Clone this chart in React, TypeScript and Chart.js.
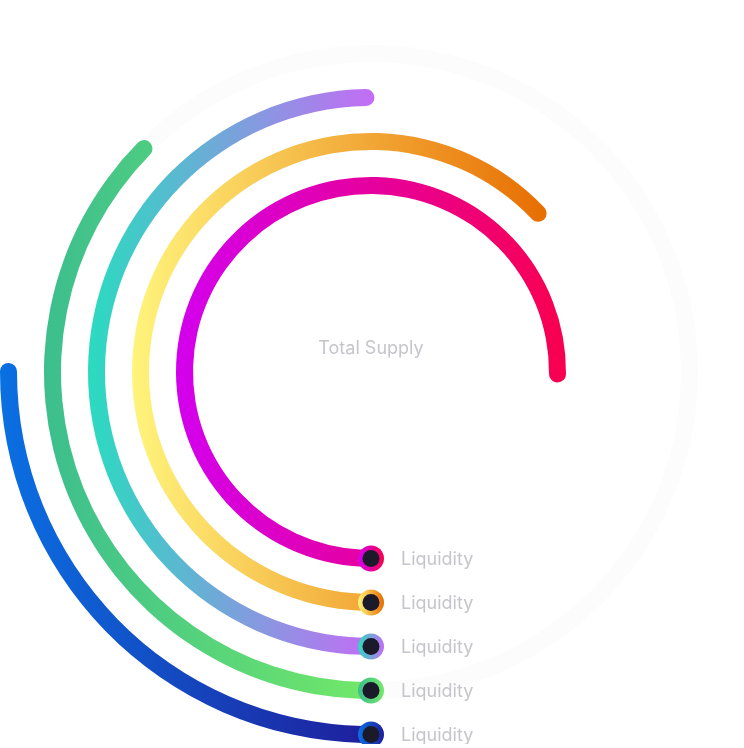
import React, { useEffect, useRef } from 'react';
import { Chart, registerables } from 'chart.js';

Chart.register(...registerables);

// ---- data (rings listed inner → outer) ----
const centerTitle = 'Total Supply';
const ringLabels = ['Liquidity', 'Liquidity', 'Liquidity', 'Liquidity', 'Liquidity'];
const ringValues = [75.9, 63.5, 50.2, 37.8, 25.4];
const ringTotal = 100;

// ---- styles ----
const ringStartColors = ['#d300ee', '#fff47c', '#2adbc0', '#3cbe8e', '#0a70e2'];
const ringEndColors = ['#f8004e', '#e76c00', '#c46cf5', '#72e868', '#1f1e9c'];
const trackColors = ['rgba(0,0,0,0)', 'rgba(0,0,0,0)', 'rgba(0,0,0,0)', '#fcfcfc', 'rgba(0,0,0,0)'];
const RING = 17;
const GAP = 27;
const ROTATION = 180;
const CUTOUT = 178;
const TEXT_COLOR = '#c5c5cb';
const DOT_COLOR = '#1b1a2a';
const FONT = '400 18px Inter, "Noto Sans", sans-serif';

export default function App() {
  const ref = useRef<HTMLCanvasElement>(null);

  useEffect(() => {
    const canvas = ref.current;
    if (!canvas) return;
    const order = [4, 3, 2, 1, 0]; // outer → inner
    const datasets: any[] = [];

    order.forEach((ri, k) => {
      if (k > 0) {
        datasets.push({
          data: [ringTotal],
          backgroundColor: 'rgba(0,0,0,0)',
          borderWidth: 0,
          weight: GAP,
          spacer: true,
        });
      }
      datasets.push({
        label: ringLabels[ri],
        data: [ringValues[ri], ringTotal - ringValues[ri]],
        ringIndex: ri,
        weight: RING,
        borderWidth: 0,
        borderRadius: RING / 2,
        backgroundColor: (c: any) => {
          if (c.dataIndex === 1) return trackColors[ri];
          const chart = c.chart;
          const area = chart.chartArea;
          if (!area) return ringStartColors[ri];
          const cx = (area.left + area.right) / 2;
          const R0 = Math.min(area.right - area.left, area.bottom - area.top) / 2;
          const Rout = R0 - k * (RING + GAP);
          const start = ((ROTATION - 90) * Math.PI) / 180;
          const end = start + (ringValues[ri] / ringTotal) * Math.PI * 2;
          let maxX = -Infinity;
          for (let i = 0; i <= 200; i++) {
            const a = start + ((end - start) * i) / 200;
            maxX = Math.max(maxX, cx + Rout * Math.cos(a));
          }
          const g = chart.ctx.createLinearGradient(cx - Rout, 0, Math.max(maxX, cx - Rout + 1), 0);
          g.addColorStop(0, ringStartColors[ri]);
          g.addColorStop(1, ringEndColors[ri]);
          return g;
        },
      });
    });

    const decor = {
      id: 'decor',
      afterDatasetsDraw(chart: any) {
        const ctx = chart.ctx;
        const area = chart.chartArea;
        const cx = (area.left + area.right) / 2;
        const cy = (area.top + area.bottom) / 2;
        ctx.save();
        ctx.font = FONT;
        ctx.fillStyle = TEXT_COLOR;
        ctx.textAlign = 'center';
        ctx.textBaseline = 'middle';
        ctx.fillText(centerTitle, cx, cy - 23);

        chart.data.datasets.forEach((ds: any, i: number) => {
          if (ds.spacer) return;
          const ri = ds.ringIndex;
          const arc = chart.getDatasetMeta(i).data[0];
          if (!arc) return;
          const r = (arc.innerRadius + arc.outerRadius) / 2;
          const px = arc.x + r * Math.cos(arc.startAngle);
          const py = arc.y + r * Math.sin(arc.startAngle);
          const g = ctx.createLinearGradient(px - 13, 0, px + 13, 0);
          g.addColorStop(0, ringStartColors[ri]);
          g.addColorStop(1, ringEndColors[ri]);
          ctx.beginPath();
          ctx.arc(px, py, 13, 0, Math.PI * 2);
          ctx.fillStyle = g;
          ctx.fill();
          ctx.beginPath();
          ctx.arc(px, py, 8.5, 0, Math.PI * 2);
          ctx.fillStyle = DOT_COLOR;
          ctx.fill();
          ctx.fillStyle = TEXT_COLOR;
          ctx.textAlign = 'left';
          ctx.textBaseline = 'middle';
          ctx.fillText(ds.label, px + 30, py + 1);
        });
        ctx.restore();
      },
    };

    const chart = new Chart(canvas, {
      type: 'doughnut',
      data: { labels: ['value', 'rest'], datasets },
      options: {
        responsive: false,
        maintainAspectRatio: false,
        animation: false,
        events: [],
        rotation: ROTATION,
        circumference: 360,
        cutout: CUTOUT,
        layout: { padding: 0 },
        plugins: {
          legend: { display: false },
          tooltip: { enabled: false },
        },
      } as any,
      plugins: [decor],
    });
    return () => chart.destroy();
  }, []);

  return (
    <div style={{ position: 'absolute', left: 0, top: 0, width: 744, height: 748, background: '#fff' }}>
      <canvas ref={ref} width={742} height={744} style={{ display: 'block' }} />
    </div>
  );
}
